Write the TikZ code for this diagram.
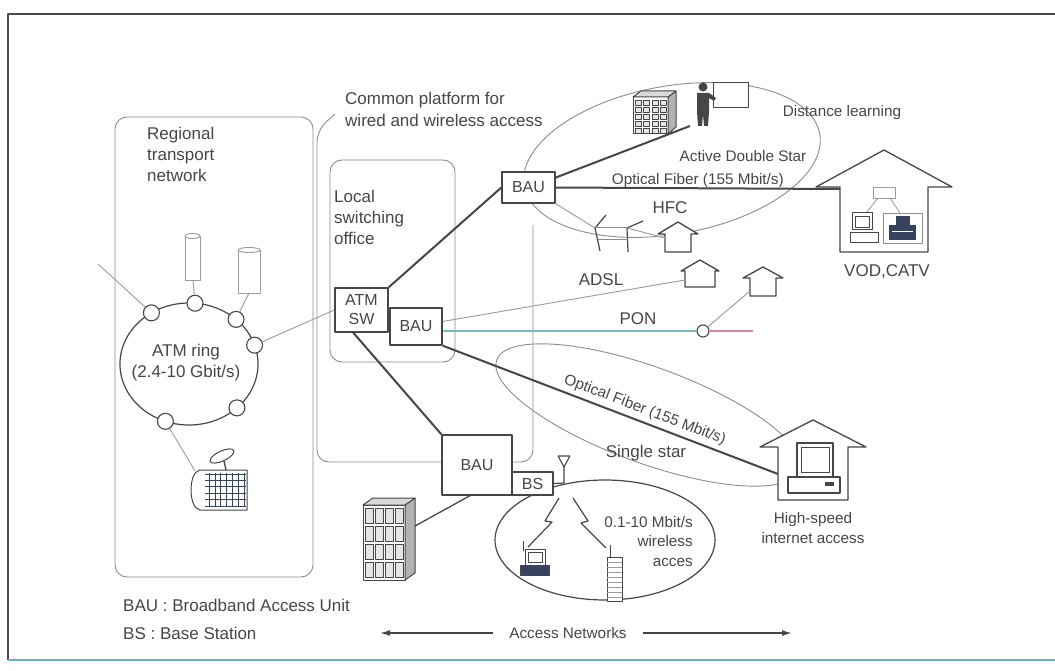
\documentclass[tikz,border=0pt]{standalone}
\usepackage{fontspec}
\setmainfont{Liberation Sans}
\usetikzlibrary{shapes.geometric,arrows.meta}

\definecolor{ink}{HTML}{464646}
\definecolor{wiregray}{HTML}{9A9A9A}
\definecolor{zonegray}{HTML}{8C8C8C}
\definecolor{rimdark}{HTML}{4A4A4A}
\definecolor{rimteal}{HTML}{62B9B5}
\definecolor{ponteal}{HTML}{74BDBD}
\definecolor{ponrose}{HTML}{D98C9A}
\definecolor{coaxrose}{HTML}{C96E80}
\definecolor{deskblue}{HTML}{37425C}

% house outline: apex x, apex y, eave half width, wall half width, eave y, floor y
\def\hut(#1,#2,#3,#4,#5,#6){\draw[house] (#1-#4,#6) -- (#1-#4,#5) -- (#1-#3,#5) -- (#1,#2) -- (#1+#3,#5) -- (#1+#4,#5) -- (#1+#4,#6) -- cycle;}
% window grid: x0, y0, columns, rows, dx, dy, w, h
\def\panes(#1,#2,#3,#4,#5,#6,#7,#8){\foreach \ix in {1,...,#3}{\foreach \iy in {1,...,#4}{\draw[pane] ({#1+(\ix-1)*#5},{#2+(\iy-1)*#6}) rectangle ++(#7,#8);}}}

\begin{document}
\begin{tikzpicture}[x=1pt,y=-1pt,line join=round,
  lbl/.style={text=ink, inner sep=0pt, font=\fontsize{17}{21}\selectfont},
  lbs/.style={text=ink, inner sep=0pt, font=\fontsize{15.3}{19.5}\selectfont},
  unit/.style={draw=ink, line width=1.3pt, fill=white, text=ink, inner sep=0pt, align=center, font=\fontsize{16}{19}\selectfont},
  ringnode/.style={circle, draw=ink, line width=1.1pt, fill=white, minimum size=16pt, inner sep=0pt},
  zone/.style={draw=zonegray, line width=0.9pt},
  wire/.style={draw=wiregray, line width=0.9pt},
  fiber/.style={draw=ink, line width=2pt},
  house/.style={draw=ink, line width=1.3pt, fill=white},
  pane/.style={draw=ink, line width=0.6pt, fill=black!10},
  thing/.style={draw=ink, line width=1pt, fill=white},
  span/.style={draw=ink, line width=1.5pt, -{Latex[length=10pt,width=6pt]}}]
\useasboundingbox (0,0) rectangle (1055,671);

%%%%% frame
\draw[rimdark, line width=1.6pt] (8,660) -- (8,14) -- (1055,14);
\draw[rimteal, line width=1.6pt] (8,660) -- (1055,660);

%%%%% zones
\draw[zone, rounded corners=12pt] (115,117) rectangle (313,577);
\draw[zone, rounded corners=12pt] (330,160) rectangle (455,362);
\draw[zone, rounded corners=12pt] (533,225) -- (533,462) -- (317,462) -- (317,130) -- (335,114);
\node[zone, ellipse, minimum width=300pt, minimum height=148pt, rotate=10] (ads) at (672,160) {};
\node[zone, ellipse, minimum width=322pt, minimum height=96pt, rotate=-20] (sstar) at (648,415) {};
\node[draw=ink, line width=1.2pt, ellipse, minimum width=220pt, minimum height=120pt] (radio) at (605,540) {};

\node[lbl, align=left, anchor=north west] (regtxt) at (147,127) {Regional\\transport\\network};
\node[lbl, align=left, anchor=north west] (lsotxt) at (334,190) {Local\\switching\\office};
\node[lbl, align=left, anchor=north west, font=\fontsize{17}{22}\selectfont] (cpftxt) at (345,92) {Common platform for\\wired and wireless access};

%%%%% regional ring
\draw[ink, line width=1.2pt] (189,364) ellipse [x radius=69pt, y radius=61pt];
\foreach \a [count=\i] in {123,85,47,18,-46,-110}
  \node[ringnode] (r\i) at ({189+69*cos(\a)},{364-61*sin(\a)}) {};
\node[lbl, align=center] (ringtxt) at (186,363) {ATM ring\\(2.4-10 Gbit/s)};

% servers
\draw[wiregray, line width=0.9pt, fill=white] (185,236) rectangle (200,280);
\draw[wiregray, line width=0.9pt, fill=white] (192.5,236) ellipse [x radius=7.5pt, y radius=2.5pt];
\draw[wiregray, line width=0.9pt, fill=white] (238,250) rectangle (260,293);
\draw[wiregray, line width=0.9pt, fill=white] (249,250) ellipse [x radius=11pt, y radius=2.5pt];
\coordinate (srvA) at (193,280);
\coordinate (srvB) at (249,293);
\coordinate (uplink) at (98,264);
\draw[wire] (srvA) -- (r2);
\draw[wire] (srvB) -- (r3);
\draw[wire] (uplink) -- (r1);

% earth station
\draw[thing] (247,470) -- (200,470) .. controls (188,472) and (188,508) .. (200,510) -- (247,510) -- cycle;
\foreach \ix in {0,...,6} \draw[deskblue, line width=0.7pt] (209+\ix*5.9,473) -- (209+\ix*5.9,507);
\foreach \iy in {0,...,5} \draw[deskblue, line width=0.7pt] (205,474+\iy*6.4) -- (246,474+\iy*6.4);
\draw[ink, line width=1.3pt] (224,461) -- (226,470);
\draw[thing, rotate around={25:(222,456)}] (222,456) ellipse [x radius=13pt, y radius=5pt];
\coordinate (sat) at (195,471);
\draw[wire] (r6) -- (sat);

%%%%% switching and access units
\node[unit, minimum width=53pt, minimum height=44pt] (atm) at (361.5,310) {ATM\\SW};
\node[unit, minimum width=52pt, minimum height=37pt] (bauB) at (416,326.5) {BAU};
\node[unit, minimum width=53pt, minimum height=31pt] (bauA) at (528.5,187.5) {BAU};
\node[unit, minimum width=70pt, minimum height=60pt] (bauC) at (477,465) {BAU};
\node[unit, minimum width=41pt, minimum height=23pt] (bs) at (532.5,483.5) {BS};

\draw[wire] (r4) -- (atm.west);
\draw[fiber] (atm.north east) -- (bauA.west);
\draw[fiber] (atm.-110) -- (bauC.north west);

%%%%% active double star
\draw[thing] (633,97) rectangle (668,134);
\draw[thing, fill=black!30] (668,134) -- (676,127) -- (676,91) -- (668,97) -- cycle;
\draw[thing, fill=black!15] (633,97) -- (641,91) -- (676,91) -- (668,97) -- cycle;
\panes(635.5,100,4,5,8.2,7,6,5)
\draw[thing] (713,83) rectangle (748,108);
\fill[ink] (703,87) circle (4.5pt);
\fill[ink] (697,93) -- (709,93) -- (716,98) -- (714,101) -- (709,98) -- (709,112) -- (708,126) -- (704,126) -- (703,114) -- (702,126) -- (698,126) -- (697,112) -- cycle;
\coordinate (tutor) at (690,126);
\draw[fiber] (bauA.20) -- (tutor);

\node[lbs] (dltxt) at (842,113) {Distance learning};
\node[lbs] (adstxt) at (743,156) {Active Double Star};

% VOD house
\hut(884,150,68,44,187,252)
\coordinate (vodin) at (840,189);
\draw[fiber] (bauA.east) -- node[lbs, above=0pt] (fibAtxt) {Optical Fiber (155 Mbit/s)} (vodin);
\draw[wiregray, line width=0.8pt, fill=white] (873,187) rectangle (895,198);
\draw[wiregray, line width=0.8pt] (878,198) -- (866,213) (890,198) -- (900,213);
\draw[thing] (852,213) rectangle (872,230);
\draw[ink, line width=0.8pt] (855,216) rectangle (869,227);
\draw[thing] (850,233) rectangle (878,243);
\draw[zonegray, line width=0.9pt] (883,213) rectangle (922,243);
\fill[deskblue] (889,225) rectangle (916,240);
\fill[deskblue] (896,216) rectangle (910,226);
\draw[white, line width=0.8pt] (892,231) -- (913,231);
\node[lbl] (vodtxt) at (887,272) {VOD,CATV};

% HFC
\coordinate (tapA) at (595,228);
\coordinate (tapB) at (627,228);
\draw[wire] (bauA.south east) -- (tapA);
\draw[ink, line width=1.2pt] (600,251) -- (tapA) -- (606,215);
\draw[ink, line width=1.2pt] (628,252) -- (tapB) -- (643,221);
\draw[coaxrose, line width=1pt] (tapA) -- (tapB);
\draw[coaxrose, line width=1pt] (598,240) -- (628,240);
\hut(678,222,20,13,234,252)
\coordinate (hfcin) at (665,238);
\draw[wire] (tapB) -- (hfcin);
\node[lbl] (hfctxt) at (670,208) {HFC};

% ADSL
\hut(700,260,19,15,271,287)
\coordinate (adslin) at (685,280);
\draw[wire] ([yshift=5pt]bauB.east) -- (adslin);
\node[lbl] (adsltxt) at (601,280) {ADSL};

% PON
\node[circle, draw=ink, line width=1.1pt, fill=white, minimum size=12pt, inner sep=0pt] (ponsplit) at (703,331) {};
\coordinate (ponend) at (753,331);
\draw[ponteal, line width=1.2pt] ([yshift=-4.5pt]bauB.east) -- (ponsplit);
\draw[ponrose, line width=1.2pt] (ponsplit) -- (ponend);
\hut(763,267,20,13,278,296)
\coordinate (ponin) at (750,291);
\draw[wire] (ponsplit) -- (ponin);
\node[lbl] (pontxt) at (638,319) {PON};

%%%%% single star
\hut(813,420,53,35,447,500)
\draw[thing, line width=1.2pt] (797,443) rectangle (833,477);
\draw[ink, line width=0.8pt] (801,447) rectangle (829,472);
\draw[thing, line width=1.2pt] (788,477) rectangle (840,493);
\fill[ink] (825,482) rectangle (834,486);
\coordinate (hsin) at (778,474);
\draw[fiber] (bauB.south east) -- node[lbs, sloped, above=4pt, pos=0.59] (fibBtxt) {Optical Fiber (155 Mbit/s)} (hsin);
\node[lbl] (sstxt) at (646,453) {Single star};
\node[lbs, align=center] (hstxt) at (813,528) {High-speed\\internet access};

%%%%% wireless access
\draw[thing] (363,505) rectangle (405,580);
\draw[thing, fill=black!30] (405,580) -- (415,573) -- (415,498) -- (405,505) -- cycle;
\draw[thing, fill=black!15] (363,505) -- (373,498) -- (415,498) -- (405,505) -- cycle;
\panes(365.5,508,4,4,10,18,7.5,15)
\coordinate (tower) at (415,526);
\draw[ink, line width=1.3pt] ([xshift=-7pt]bauC.south) -- (tower);

\coordinate (mast) at (564,483);
\draw[ink, line width=1.2pt] (bs.east) -- (mast) -- (564,467);
\draw[ink, line width=1.1pt, fill=white] (558,456) -- (570,456) -- (564,467) -- cycle;
\draw[ink, line width=1.2pt] (559,498) -- (545,521) -- (552,522) -- (528,547);
\draw[ink, line width=1.2pt] (573,498) -- (588,521) -- (581,523) -- (606,548);

% laptop
\draw[ink, line width=1pt] (523,551) -- (523,541);
\draw[thing] (525,549) rectangle (545,565);
\draw[ink, line width=0.8pt] (528,552) rectangle (542,562);
\draw[thing, fill=deskblue] (520,565) rectangle (549,575);
% handset
\draw[ink, line width=1pt] (610,557) -- (610,545);
\draw[thing] (607,557) rectangle (622,601);
\foreach \iy in {0,...,7} \draw[wiregray, line width=0.8pt] (607,562+\iy*5) -- (622,562+\iy*5);

\node[lbs, align=right, anchor=north east, font=\fontsize{15.3}{19.5}\selectfont] (wltxt) at (693,516) {0.1-10 Mbit/s\\wireless\\acces};

%%%%% legend
\node[lbl, anchor=west] (keyBAU) at (123,605) {BAU : Broadband Access Unit};
\node[lbl, anchor=west] (keyBS) at (123,633) {BS : Base Station};
\node[lbs] (accnet) at (568,633) {Access Networks};
\coordinate (accL) at (380,633);
\coordinate (accR) at (792,633);
\draw[span, shorten <=16pt] (accnet.west) -- (accL);
\draw[span, shorten <=16pt] (accnet.east) -- (accR);
\end{tikzpicture}
\end{document}
